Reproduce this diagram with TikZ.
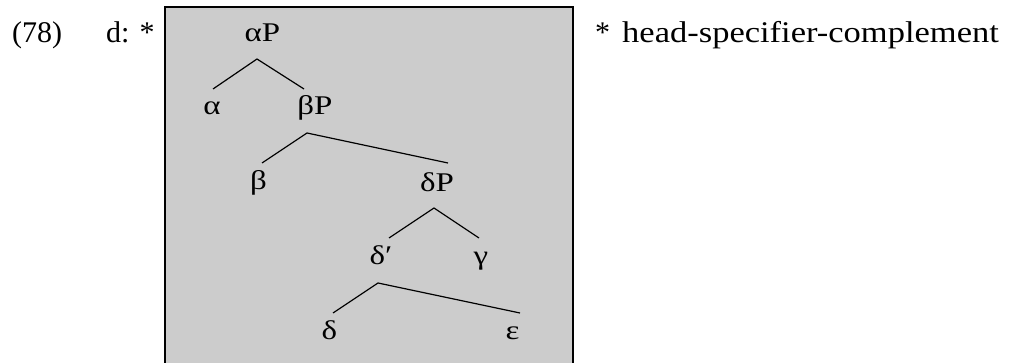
\documentclass[tikz,border=0pt]{standalone}
\usepackage{fontspec}
\setmainfont{Liberation Serif}
\usetikzlibrary{calc}
\definecolor{boxgray}{RGB}{204,204,204}
\newcommand{\tl}[1]{\scalebox{1.22}[1]{#1}}
\begin{document}
\begin{tikzpicture}[x=1pt,y=-1pt,
  lab/.style={inner sep=0pt, anchor=base, font=\fontsize{27}{32}\selectfont},
  txt/.style={inner sep=0pt, anchor=base west, font=\fontsize{30}{36}\selectfont},
  edge/.style={line width=1.2pt}]
\useasboundingbox (0,0) rectangle (1015,363);
\clip (0,0) rectangle (1015,363);
\draw[fill=boxgray, line width=2pt] (164.5,7) rectangle (572.5,390);
% texts
\node[txt] (num) at (12,43) {(78)};
\node[txt] (d) at (106,43) {d: *};
\node[txt] (star) at (595,43) {*};
\node[txt] (hsc) at (622,43) {\scalebox{1.15}[1]{head-specifier-complement}};
% tree labels
\node[lab] (aP) at (262.5,42) {\tl{αP}};
\node[lab] (a) at (212,115) {\tl{α}};
\node[lab] (bP) at (315,115) {\tl{βP}};
\node[lab] (b) at (258.5,190) {\tl{β}};
\node[lab] (dP) at (437,192) {\tl{δP}};
\node[lab] (dbar) at (381,265) {\tl{δ′}};
\node[lab] (g) at (481,265) {\tl{γ}};
\node[lab] (dd) at (329.5,340) {\tl{δ}};
\node[lab] (e) at (512.5,340) {\tl{ε}};
% edges
\draw[edge] ([shift={(1,-26)}]a.base) -- ([shift={(-5.5,17)}]aP.base) -- ([shift={(-11,-26)}]bP.base);
\draw[edge] ([shift={(3.5,-27)}]b.base) -- ([shift={(-8,18)}]bP.base) -- ([shift={(11,-29)}]dP.base);
\draw[edge] ([shift={(8,-27)}]dbar.base) -- ([shift={(-3,16)}]dP.base) -- ([shift={(-2,-27)}]g.base);
\draw[edge] ([shift={(3.5,-27)}]dd.base) -- ([shift={(-3,18)}]dbar.base) -- ([shift={(7.5,-27)}]e.base);
\end{tikzpicture}
\end{document}
